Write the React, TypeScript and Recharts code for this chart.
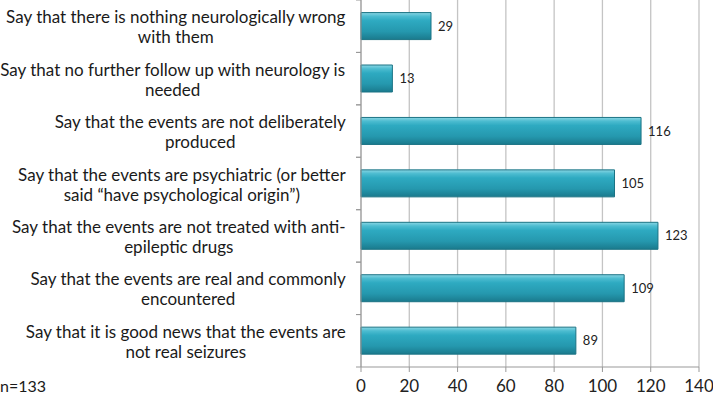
import React from "react";
import {
  Bar,
  BarChart,
  CartesianGrid,
  LabelList,
  XAxis,
  YAxis,
} from "recharts";

// each statement is wrapped into two lines like the original
const statements: string[][] = [
  ["Say that there is nothing neurologically wrong", "with them"],
  ["Say that no further follow up with neurology is", "needed"],
  ["Say that the events are not deliberately", "produced"],
  ["Say that the events are psychiatric (or better", "said \u201chave psychological origin\u201d)"],
  ["Say that the events are not treated with anti-", "epileptic drugs"],
  ["Say that the events are real and commonly", "encountered"],
  ["Say that it is good news that the events are", "not real seizures"],
];

const counts: number[] = [29, 13, 116, 105, 123, 109, 89];

const xTicks: number[] = [0, 20, 40, 60, 80, 100, 120, 140];

const data = statements.map((lines, i) => ({
  label: lines.join("\n"),
  count: counts[i],
}));

const FONT = "Lato, 'Open Sans', sans-serif";
const LABEL_SIZE = 17;
const CHART_W = 713;
const CHART_H = 400;
const AXIS_W = 361;
const XAXIS_H = 33;
const PLOT_H = CHART_H - XAXIS_H;
const BAND = PLOT_H / statements.length;

let ctx: CanvasRenderingContext2D | null = null;
const measure = (text: string) => {
  if (!ctx) ctx = document.createElement("canvas").getContext("2d");
  if (!ctx) return text.length * 7.3;
  ctx.font = `${LABEL_SIZE}px Lato`;
  return ctx.measureText(text).width;
};

const StatementTick = (props: any) => {
  const { y, payload } = props;
  const lines: string[] = String(payload.value).split("\n");
  const widest = Math.max(...lines.map(measure));
  const right = 346;
  const cx = right - widest / 2;
  return (
    <g>
      <line x1={AXIS_W - 5} x2={AXIS_W} y1={y - BAND / 2} y2={y - BAND / 2} stroke="#999" />
      <line x1={AXIS_W - 5} x2={AXIS_W} y1={y + BAND / 2} y2={y + BAND / 2} stroke="#999" />
      <text
        textAnchor="middle"
        fontFamily={FONT}
        fontSize={LABEL_SIZE}
        fill="#1a1a1a"
      >
        {lines.map((ln, i) => (
          <tspan key={i} x={cx} y={y - 3 + i * 20}>
            {ln}
          </tspan>
        ))}
      </text>
    </g>
  );
};

const App = () => {
  return (
    <div
      style={{
        position: "fixed",
        left: 0,
        top: 0,
        width: CHART_W,
        height: CHART_H,
        background: "#fff",
      }}
    >
      <BarChart
        width={CHART_W}
        height={CHART_H}
        data={data}
        layout="vertical"
        margin={{ top: 0, right: 14, bottom: 0, left: 0 }}
        barCategoryGap="24%"
      >
        <defs>
          <linearGradient id="barFill" x1="0" y1="0" x2="0" y2="1">
            <stop offset="0%" stopColor="#8ad6e4" />
            <stop offset="14%" stopColor="#4cbcd0" />
            <stop offset="30%" stopColor="#2eaac1" />
            <stop offset="70%" stopColor="#2598ae" />
            <stop offset="100%" stopColor="#1a7a8d" />
          </linearGradient>
        </defs>
        <CartesianGrid horizontal={false} stroke="#c4c4c4" strokeWidth={1.3} />
        <XAxis
          type="number"
          domain={[0, 140]}
          ticks={xTicks}
          height={XAXIS_H}
          tickSize={5}
          tickMargin={8}
          stroke="#999"
          tick={{ fontFamily: FONT, fontSize: 17, fill: "#222" }}
        />
        <YAxis
          type="category"
          dataKey="label"
          width={AXIS_W}
          tickLine={false}
          stroke="#999"
          tick={<StatementTick />}
          interval={0}
        />
        <Bar
          dataKey="count"
          fill="url(#barFill)"
          stroke="#1b7384"
          strokeWidth={1}
          isAnimationActive={false}
        >
          <LabelList
            dataKey="count"
            position="right"
            offset={7}
            fontFamily={FONT}
            fontSize={13}
            fill="#222"
          />
        </Bar>
      </BarChart>
      <div
        style={{
          position: "absolute",
          left: 0,
          top: 377,
          fontFamily: FONT,
          fontSize: 16,
          color: "#1a1a1a",
          lineHeight: "18px",
        }}
      >
        n=133
      </div>
    </div>
  );
};

export default App;
